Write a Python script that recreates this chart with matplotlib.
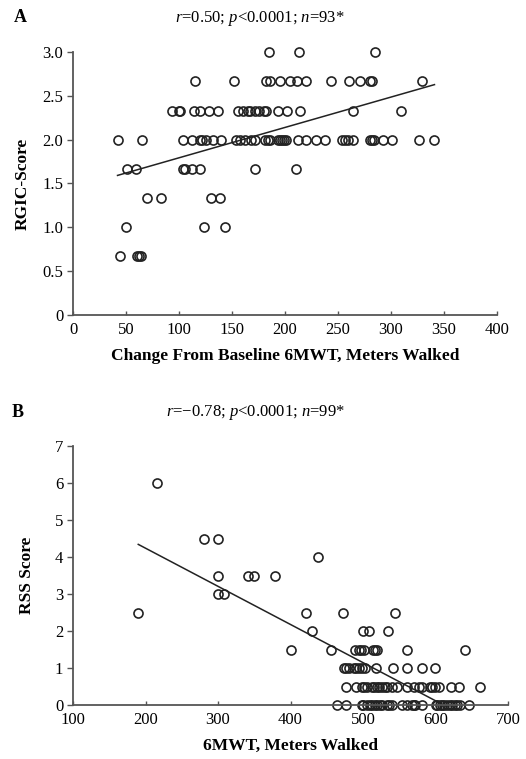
import numpy as np
import matplotlib
matplotlib.use("Agg")
import matplotlib.pyplot as plt

plt.rcParams['font.family'] = ['Liberation Serif', 'DejaVu Serif']
plt.rcParams['mathtext.fontset'] = 'custom'
plt.rcParams['mathtext.rm'] = 'Liberation Serif'
plt.rcParams['mathtext.it'] = 'Liberation Serif:italic'

# panel A: change from baseline 6MWT vs RGIC score
walk_change = [185, 213, 285,
               115, 152, 182, 186, 195, 205, 211, 220, 243, 260, 271, 280, 282, 329,
               93, 100, 101, 114, 120, 128, 137, 156, 160, 165, 167, 172, 175, 180,
               182, 193, 202, 214, 264, 309,
               42, 65, 104, 112, 120, 122, 125, 132, 140, 154, 158, 162, 168, 172,
               181, 184, 186, 193, 195, 197, 199, 201, 212, 220, 229, 238, 254, 257,
               259, 264, 280, 282, 284, 292, 301, 326, 341,
               51, 59, 104, 106, 112, 120, 172, 210,
               70, 83, 130, 139,
               50, 124, 143,
               44, 60, 62, 64]
rgic = ([3.0] * 3 + [2.67] * 14 + [2.33] * 20 + [2.0] * 37 +
        [1.67] * 8 + [1.33] * 4 + [1.0] * 3 + [0.67] * 4)

# panel B: 6MWT vs RSS score
walk_6mwt = [216,
             281, 300,
             438,
             300, 342, 350, 379,
             300, 308,
             190, 422, 472, 544,
             430, 500, 508, 534,
             401, 456, 489, 494, 497, 501, 514, 517, 519, 560, 641,
             474, 476, 481, 487, 490, 494, 498, 503, 518, 541, 560, 581, 599,
             477, 490, 498, 502, 505, 512, 515, 519, 522, 526, 530, 533, 540, 547,
             560, 570, 577, 581, 592, 595, 599, 605, 622, 632, 661,
             464, 477, 498, 500, 505, 509, 512, 516, 519, 523, 526, 533, 536, 540,
             554, 560, 567, 570, 572, 581, 600, 602, 606, 609, 612, 616, 620, 623,
             627, 630, 634, 646]
rss = ([6.0] * 1 + [4.5] * 2 + [4.0] * 1 + [3.5] * 4 + [3.0] * 2 + [2.5] * 4 +
       [2.0] * 4 + [1.5] * 11 + [1.0] * 13 + [0.5] * 25 + [0.0] * 32)

title_a = r'$\it{r}$=0.50; $\it{p}$<0.0001; $\it{n}$=93*'
title_b = r'$\it{r}$=−0.78; $\it{p}$<0.0001; $\it{n}$=99*'

fig = plt.figure(figsize=(5.26, 7.59), dpi=100)
ax1 = fig.add_axes([0.1388, 0.585, 0.8061, 0.3465])
ax2 = fig.add_axes([0.1388, 0.0711, 0.827, 0.3413])

def style(ax):
    for s in ['top', 'right']:
        ax.spines[s].set_visible(False)
    for s in ['left', 'bottom']:
        ax.spines[s].set_color('#555555')
        ax.spines[s].set_linewidth(1.3)
    ax.tick_params(axis='y', direction='out', length=4, width=1, color='#555555',
                   labelsize=12, pad=3)
    ax.tick_params(axis='x', direction='in', length=3, width=1, color='#555555',
                   labelsize=12, pad=5)

def scatter_fit(ax, x, y):
    x = np.array(x, float)
    y = np.array(y, float)
    ax.plot(x, y, 'o', mfc='none', mec='#222222', ms=6.5, mew=1.2, clip_on=False)
    # least-squares trend line over the observed range
    k, b = np.polyfit(x, y, 1)
    xs = np.array([x.min(), x.max()])
    ax.plot(xs, k * xs + b, color='#222222', lw=1.1)

scatter_fit(ax1, walk_change, rgic)
style(ax1)
ax1.set_xlim(0, 400)
ax1.set_ylim(0, 3.0)
ax1.set_xticks(np.arange(0, 401, 50))
ax1.set_yticks(np.arange(0, 3.01, 0.5))
ax1.set_yticklabels(['0'] + ['%.1f' % v for v in np.arange(0.5, 3.01, 0.5)])
ax1.set_xlabel('Change From Baseline 6MWT, Meters Walked', fontsize=12.5,
               fontweight='bold', labelpad=7)
ax1.set_ylabel('RGIC-Score', fontsize=12.5, fontweight='bold', labelpad=8)

scatter_fit(ax2, walk_6mwt, rss)
style(ax2)
ax2.set_xlim(100, 700)
ax2.set_ylim(0, 7)
ax2.set_xticks(np.arange(100, 701, 100))
ax2.set_yticks(np.arange(0, 8, 1))
ax2.set_xlabel('6MWT, Meters Walked', fontsize=12.5, fontweight='bold', labelpad=7)
ax2.set_ylabel('RSS Score', fontsize=12.5, fontweight='bold', labelpad=14)

fig.text(0.027, 1 - 18 / 759, 'A', fontsize=13, fontweight='bold', va='center')
fig.text(260 / 526, 1 - 18 / 759, title_a, fontsize=12, ha='center', va='center')
fig.text(0.023, 1 - 412 / 759, 'B', fontsize=13, fontweight='bold', va='center')
fig.text(256 / 526, 1 - 412 / 759, title_b, fontsize=12, ha='center', va='center')

fig.savefig('out.png', dpi=100)
